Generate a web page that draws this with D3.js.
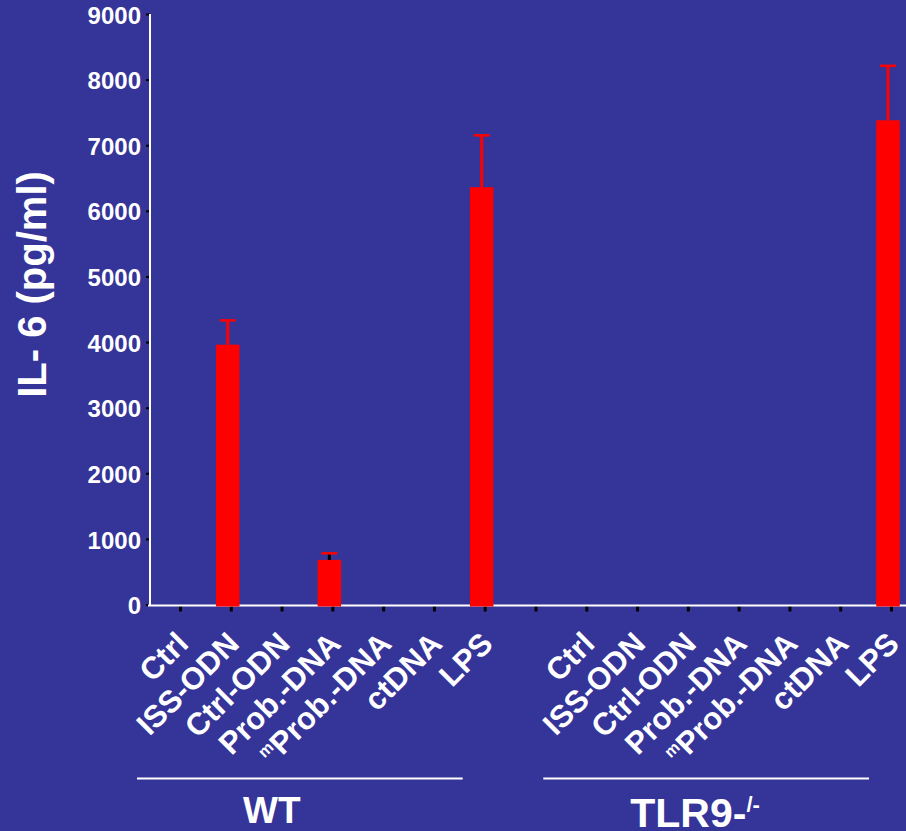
<!DOCTYPE html>
<html><head><meta charset="utf-8">
<script src="https://cdn.jsdelivr.net/npm/d3@7"></script>
<style>html,body{margin:0;padding:0;background:#353499;} svg{display:block;}</style>
</head><body><svg id="c" width="906" height="831"></svg>
<script>
// ---- data ----
const groups = ["WT", "TLR9"];
const categories = ["Ctrl", "ISS-ODN", "Ctrl-ODN", "Prob.-DNA", "mProb.-DNA", "ctDNA", "LPS"];
const wtValues   = [0, 3960, 0, 680, 0, 0, 6360];
const wtErrors   = [0, 370, 0, 100, 0, 0, 790];
const tlr9Values = [0, 0, 0, 0, 0, 0, 7380];
const tlr9Errors = [0, 0, 0, 0, 0, 0, 830];
const yTicks = [0, 1000, 2000, 3000, 4000, 5000, 6000, 7000, 8000, 9000];
const yTitle = "IL- 6 (pg/ml)";

// ---- build ----
const FONT = "'Liberation Sans', Arial, Helvetica, sans-serif";
const svg = d3.select("#c");
svg.append("rect").attr("width", 906).attr("height", 831).attr("fill", "#353499");

const series = [
  {group: "WT", values: wtValues, errors: wtErrors},
  {group: "TLR9", values: tlr9Values, errors: tlr9Errors}
];
const slots = [];
categories.forEach((c, i) => slots.push("WT|" + i));
slots.push("gap");
categories.forEach((c, i) => slots.push("TLR9|" + i));

const x = d3.scalePoint().domain(slots).range([180, 891]);
const y = d3.scaleLinear().domain([0, 9000]).range([604.5, 14]);

const bars = [];
series.forEach(s => s.values.forEach((v, i) => bars.push({key: s.group + "|" + i, v, e: s.errors[i], cat: categories[i]})));

// y axis
const yAxis = svg.append("g").attr("transform", "translate(150,0)")
  .call(d3.axisLeft(y).tickValues(yTicks).tickSize(4).tickSizeOuter(0).tickPadding(5).tickFormat(d3.format("d")));
yAxis.select(".domain").remove();
yAxis.selectAll(".tick line").attr("stroke", "#000").attr("stroke-width", 2);
yAxis.selectAll(".tick text").attr("fill", "#fff").attr("font-family", FONT)
  .attr("font-weight", "bold").attr("font-size", 24).attr("dy", "0.38em");
svg.append("line").attr("x1", 150).attr("x2", 150).attr("y1", y(9000)).attr("y2", y(0) + 1.5)
  .attr("stroke", "#fff").attr("stroke-width", 2);

// x axis
const xAxis = svg.append("g").attr("transform", "translate(0," + (y(0) + 1) + ")")
  .call(d3.axisBottom(x).tickSize(6).tickSizeOuter(0).tickFormat(""));
xAxis.select(".domain").remove();
xAxis.selectAll(".tick line").attr("stroke", "#000").attr("stroke-width", 3);
svg.append("line").attr("x1", 148).attr("x2", 906).attr("y1", y(0) + 1).attr("y2", y(0) + 1)
  .attr("stroke", "#fff").attr("stroke-width", 2);

// bars
const bw = 23.5, shift = -3;
svg.append("g").selectAll("rect").data(bars.filter(d => d.v > 0)).join("rect")
  .attr("x", d => x(d.key) + shift - bw / 2)
  .attr("width", bw)
  .attr("y", d => y(d.v))
  .attr("height", d => y(0) + 2 - y(d.v))
  .attr("fill", "#ff0000");

// error bars
const eb = svg.append("g").selectAll("g").data(bars.filter(d => d.e > 0)).join("g");
eb.append("line")
  .attr("x1", d => x(d.key) + shift).attr("x2", d => x(d.key) + shift)
  .attr("y1", d => y(d.v)).attr("y2", d => y(d.v + d.e))
  .attr("stroke", d => (y(d.v) - y(d.v + d.e)) < 10 ? "#000" : "#ff0000").attr("stroke-width", 3);
eb.append("line")
  .attr("x1", d => x(d.key) + shift - 8).attr("x2", d => x(d.key) + shift + 8)
  .attr("y1", d => y(d.v + d.e)).attr("y2", d => y(d.v + d.e))
  .attr("stroke", "#ff0000").attr("stroke-width", 2.5);

// category labels
const lbl = svg.append("g").selectAll("text").data(bars).join("text")
  .attr("transform", d => "translate(" + (x(d.key) + 10) + "," + (y(0) + 41) + ") rotate(-45)")
  .attr("text-anchor", "end")
  .attr("fill", "#fff").attr("font-family", FONT).attr("font-weight", "bold").attr("font-size", 31);
lbl.each(function(d) {
  const t = d3.select(this);
  if (d.cat.startsWith("m")) {
    t.append("tspan").attr("font-size", 16).attr("dy", -11).text("m");
    t.append("tspan").attr("dy", 11).text(d.cat.slice(1));
  } else {
    t.text(d.cat);
  }
});

// group lines and labels
groups.forEach(g => {
  const x0 = x(g + "|0") - 43, x1 = x(g + "|" + (categories.length - 1)) - 22;
  svg.append("line").attr("x1", x0).attr("x2", x1).attr("y1", 778.5).attr("y2", 778.5)
    .attr("stroke", "#fff").attr("stroke-width", 2);
  if (g === "WT") {
    svg.append("text").attr("x", (x0 + x1) / 2 - 28).attr("y", 823).attr("text-anchor", "middle")
      .attr("fill", "#fff").attr("font-family", FONT).attr("font-weight", "bold").attr("font-size", 37)
      .text("WT");
  } else {
    const t = svg.append("text").attr("x", x0 + 87).attr("y", 827).attr("text-anchor", "start")
      .attr("fill", "#fff").attr("font-family", FONT).attr("font-weight", "bold").attr("font-size", 41);
    t.append("tspan").text("TLR9-");
    t.append("tspan").attr("font-size", 22).attr("dy", -15).text("/-");
  }
});

// y title
svg.append("text").attr("transform", "translate(46,284.5) rotate(-90)")
  .attr("text-anchor", "middle").attr("fill", "#fff").attr("font-family", FONT)
  .attr("font-weight", "bold").attr("font-size", 40).text(yTitle);
</script></body></html>
